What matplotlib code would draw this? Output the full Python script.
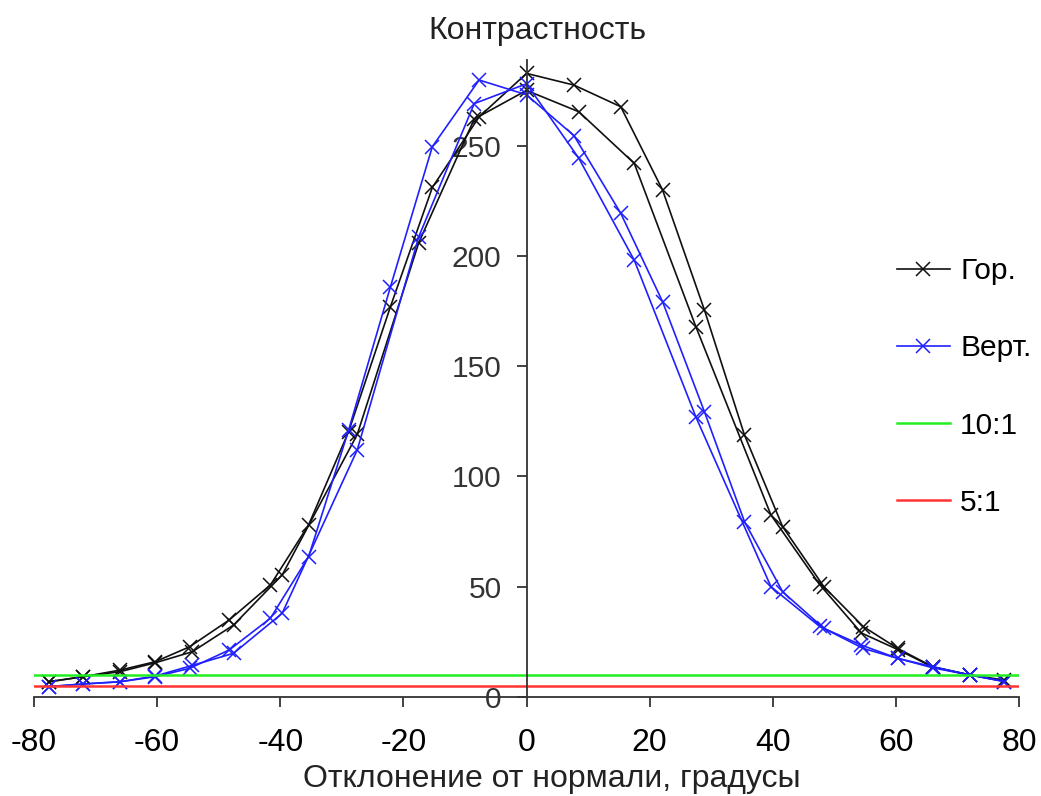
import matplotlib.pyplot as plt

plt.rcParams['font.family'] = ['Liberation Sans', 'DejaVu Sans']
plt.rcParams['axes.unicode_minus'] = False

# angles, degrees
x_a = [-77.6, -72, -66, -60.3, -54.7, -48.3, -41.6, -35.4, -28.9, -22.1, -15.3, -7.7, 0,
       7.7, 15.3, 22.1, 28.9, 35.4, 41.6, 48.3, 54.7, 60.3, 66, 72, 77.6]
x_b = [-77.6, -72, -66, -60.3, -54.3, -47.6, -39.7, -27.5, -17.5, -8.5, 0,
       8.5, 17.5, 27.5, 39.7, 47.6, 54.4, 60.3, 66, 72, 77.6]

# contrast
hor_a = [6.9, 9.2, 12.2, 16, 22.8, 34.9, 50.8, 78, 120.3, 177, 231, 263, 282.7,
         277.4, 267.6, 229.8, 175.4, 118.8, 77.2, 50, 31.9, 22, 13.7, 10, 7.7]
hor_b = [6.9, 9.2, 11.5, 15.5, 20.5, 32.6, 55.3, 119, 206, 262, 275,
         265.3, 241.9, 167.9, 82.5, 51, 29, 21.5, 13.5, 10, 7.2]
ver_a = [4.7, 5.9, 6.9, 9.2, 13, 21.3, 35.7, 63.6, 121, 186, 249.5, 279.7, 273,
         254.5, 219.3, 179.2, 129.3, 79.5, 47.7, 31.1, 22, 17.5, 13.7, 10, 7]
ver_b = [4.7, 5.9, 6.9, 9.5, 14.3, 19.8, 37.9, 112, 208.7, 269, 278,
         244.2, 198, 127, 50, 32, 23.5, 17.5, 13.2, 10, 7]

lvl_10 = 10
lvl_5 = 5

fig = plt.figure(figsize=(10.41, 7.96), dpi=100)
ax = fig.add_axes([0.0327, 0.1244, 0.9462, 0.8003])

blk = '#101010'
blu = '#2020ff'
mk = dict(marker='x', markersize=10, markeredgewidth=1.1)

ax.plot(x_a, hor_a, color=blk, lw=1.2, label='Гор.', **mk)
ax.plot(x_b, hor_b, color=blk, lw=1.2, **mk)
ax.plot(x_a, ver_a, color=blu, lw=1.2, label='Верт.', **mk)
ax.plot(x_b, ver_b, color=blu, lw=1.2, **mk)
ax.plot([-80, 80], [lvl_10, lvl_10], color='#22ee22', lw=1.8, label='10:1')
ax.plot([-80, 80], [lvl_5, lvl_5], color='#ff3333', lw=1.8, label='5:1')

ax.set_xlim(-80, 80)
ax.set_ylim(0, 288.8)
ax.set_xticks(range(-80, 81, 20))
ax.set_yticks(range(0, 251, 50))

ax.spines['top'].set_visible(False)
ax.spines['right'].set_visible(False)
ax.spines['left'].set_position(('data', 0))
ax.spines['left'].set_color('#333333')
ax.spines['bottom'].set_color('#333333')
ax.spines['left'].set_linewidth(1.3)
ax.spines['bottom'].set_linewidth(1.3)

ax.tick_params(axis='x', direction='out', length=7, width=1.3, pad=15,
               labelsize=23, colors='#333333', labelcolor='black')
ax.tick_params(axis='y', direction='out', length=7, width=1.3, pad=11,
               labelsize=21.5, colors='#333333', labelcolor='#333333')

fig.text(537 / 1041, 1 - 31 / 796, 'Контрастность', fontsize=23,
         ha='center', va='center', color='#222222')
fig.text(552 / 1041, 1 - 779 / 796, 'Отклонение от нормали, градусы', fontsize=23,
         ha='center', va='center', color='#222222')

fig.legend(loc='center left', bbox_to_anchor=(0.862, 1 - 387 / 796),
           frameon=False, fontsize=21.5, labelspacing=1.65, handlelength=1.75,
           handletextpad=0.35, borderpad=0, borderaxespad=0)

fig.savefig('out.png', dpi=100)
